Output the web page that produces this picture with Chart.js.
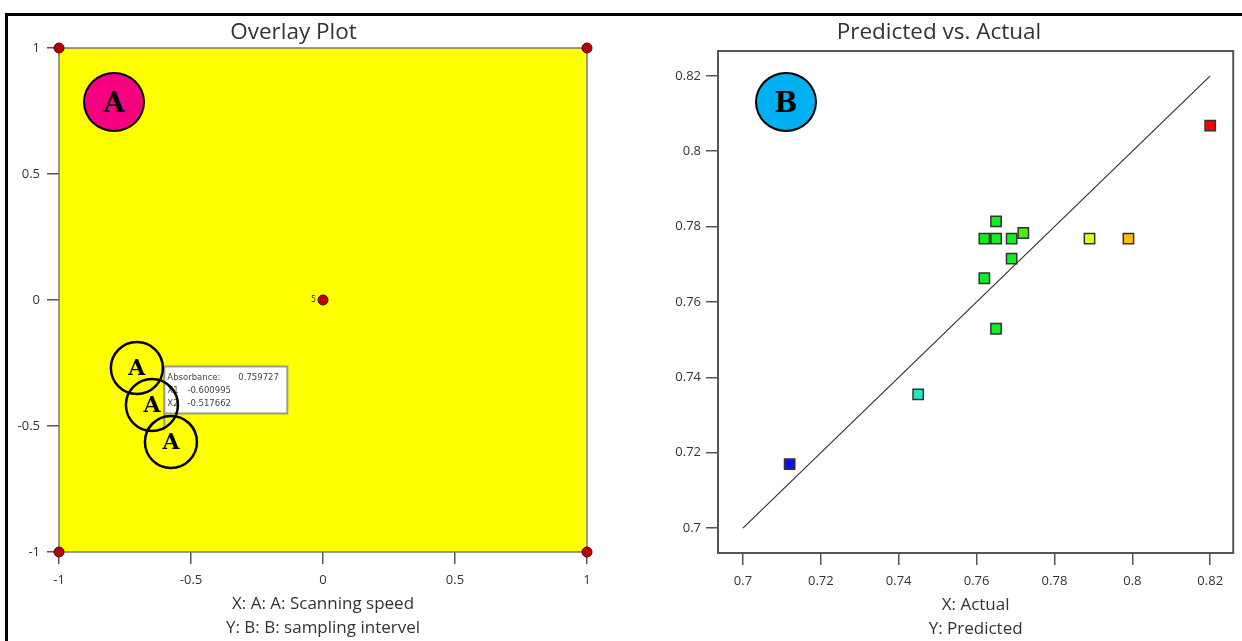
<!DOCTYPE html>
<html>
<head>
<meta charset="utf-8">
<title>Overlay Plot / Predicted vs. Actual</title>
<script src="https://cdn.jsdelivr.net/npm/chart.js@4.4.1/dist/chart.umd.min.js"></script>
<style>
  html, body { margin: 0; padding: 0; background: #fff; }
  body { width: 1242px; height: 641px; position: relative; overflow: hidden; }
  .frame { position: absolute; left: 5px; top: 13px; width: 1300px; height: 700px;
           border: 3px solid #000; box-sizing: border-box; pointer-events: none; }
  .panel { position: absolute; top: 0; height: 641px; }
  #left { left: 0; width: 640px; }
  #right { left: 640px; width: 602px; }
  .badge { position: absolute; width: 62px; height: 60px; border: 2.5px solid #000; border-radius: 50%;
           box-sizing: border-box; font: bold 27px "DejaVu Serif", serif; color: #000;
           display: flex; align-items: center; justify-content: center; }
  #badgeA { left: 83px; top: 72px; background: #f5007f; }
  #badgeB { left: 755px; top: 72px; background: #00b0f0; }
</style>
</head>
<body>
<div class="frame"></div>
<div class="panel" id="left"><canvas id="overlay"></canvas></div>
<div class="panel" id="right"><canvas id="predicted"></canvas></div>
<div class="badge" id="badgeA">A</div>
<div class="badge" id="badgeB">B</div>
<script>
// overlay plot, coded units
const designX = [-1, 1, -1, 1, 0];
const designY = [1, 1, -1, -1, 0];
const designRuns = ['', '', '', '', '5'];
const codedTicks = [-1, -0.5, 0, 0.5, 1];

// suggested solutions marked "A"
const solutionX = [-0.705, -0.648, -0.576];
const solutionY = [-0.27, -0.417, -0.563];

// flagged point
const flagX1 = -0.600995;
const flagX2 = -0.517662;
const flagAbsorbance = 0.759727;

// predicted vs actual
const actual = [0.712, 0.745, 0.762, 0.762, 0.765, 0.765, 0.765, 0.769, 0.769, 0.772, 0.789, 0.799, 0.820];
const predicted = [0.717, 0.7355, 0.7768, 0.7663, 0.7814, 0.7768, 0.7529, 0.7768, 0.7715, 0.7783, 0.7768, 0.7768, 0.8068];
const pointColors = ['#0a10f0', '#20e8c0', '#10f020', '#10f020', '#10f020', '#10f020', '#10f020',
                     '#10f020', '#10f020', '#48f010', '#e0ff10', '#ffc000', '#ff0000'];
const fitLine = [0.7, 0.82];
const absTicks = [0.7, 0.72, 0.74, 0.76, 0.78, 0.8, 0.82];

const FONT = '"Open Sans", sans-serif';
const TEXT = '#333';
const fmt = v => String(+Number(v).toFixed(3));

const plotFrame = {
  id: 'plotFrame',
  beforeDatasetsDraw(chart, args, opts) {
    const {ctx, chartArea: a} = chart;
    ctx.save();
    if (opts.fill) {
      ctx.fillStyle = opts.fill;
      ctx.fillRect(a.left, a.top, a.width, a.height);
    }
    ctx.strokeStyle = opts.color;
    ctx.lineWidth = opts.width;
    ctx.strokeRect(a.left, a.top, a.width, a.height);
    ctx.restore();
  }
};

const overlayMarks = {
  id: 'overlayMarks',
  afterDatasetsDraw(chart) {
    const {ctx, scales: {x, y}} = chart;
    ctx.save();

    // run count next to the centre point
    ctx.font = '8px "DejaVu Sans"';
    ctx.fillStyle = TEXT;
    ctx.textAlign = 'right';
    ctx.textBaseline = 'middle';
    designRuns.forEach((t, i) => {
      if (t) ctx.fillText(t, x.getPixelForValue(designX[i]) - 7, y.getPixelForValue(designY[i]));
    });

    // flag with the predicted value
    const fx = x.getPixelForValue(flagX1);
    const fy = y.getPixelForValue(flagX2);
    const by = fy - 64, bw = 123, bh = 47;
    ctx.strokeStyle = '#9a9a9a';
    ctx.lineWidth = 2;
    ctx.beginPath();
    ctx.moveTo(fx, fy);
    ctx.lineTo(fx, by);
    ctx.stroke();
    ctx.fillStyle = '#fff';
    ctx.fillRect(fx, by, bw, bh);
    ctx.strokeRect(fx, by, bw, bh);
    ctx.fillStyle = '#444';
    ctx.textAlign = 'left';
    ctx.font = '8.5px "DejaVu Sans"';
    ctx.fillText('Absorbance:', fx + 3, by + 11);
    ctx.fillText(String(flagAbsorbance), fx + 74, by + 11);
    ctx.fillText('X1', fx + 3, by + 24);
    ctx.fillText(String(flagX1), fx + 23, by + 24);
    ctx.fillText('X2', fx + 3, by + 37);
    ctx.fillText(String(flagX2), fx + 23, by + 37);

    // solution circles
    ctx.strokeStyle = '#000';
    ctx.lineWidth = 2.5;
    ctx.fillStyle = '#000';
    ctx.textAlign = 'center';
    ctx.font = 'bold 22px "DejaVu Serif"';
    solutionX.forEach((v, i) => {
      const cx = x.getPixelForValue(v);
      const cy = y.getPixelForValue(solutionY[i]);
      ctx.beginPath();
      ctx.arc(cx, cy, 26, 0, Math.PI * 2);
      ctx.stroke();
      ctx.fillText('A', cx, cy + 1);
    });
    ctx.restore();
  }
};

function tickAxis(ticks, opts) {
  return Object.assign({
    type: 'linear',
    afterBuildTicks: s => { s.ticks = ticks.map(v => ({value: v})); },
    grid: {drawOnChartArea: false, drawTicks: true, tickLength: 12, color: '#555', lineWidth: 1.5},
    border: {display: false}
  }, opts);
}

new Chart(document.getElementById('overlay'), {
  type: 'scatter',
  data: {
    datasets: [{
      data: designX.map((v, i) => ({x: v, y: designY[i]})),
      backgroundColor: '#bb0000',
      borderColor: '#4a0000',
      borderWidth: 1,
      pointRadius: 5,
      clip: false
    }]
  },
  options: {
    responsive: true,
    maintainAspectRatio: false,
    animation: false,
    devicePixelRatio: 1,
    layout: {padding: {top: 14, left: 0, right: 53, bottom: 0}},
    scales: {
      x: tickAxis(codedTicks, {
        min: -1, max: 1,
        afterFit: s => { s.height = 89; },
        ticks: {color: TEXT, font: {family: FONT, size: 13}, padding: 8, callback: fmt},
        title: {display: true, text: ['X: A: A: Scanning speed', 'Y: B: B: sampling intervel'],
                color: TEXT, font: {family: FONT, size: 17, lineHeight: 1.4}, padding: {top: 4, bottom: 1}}
      }),
      y: tickAxis(codedTicks, {
        min: -1, max: 1,
        afterFit: s => { s.width = 59; },
        ticks: {color: TEXT, font: {family: FONT, size: 13}, padding: 7, callback: fmt}
      })
    },
    plugins: {
      legend: {display: false},
      tooltip: {enabled: false},
      title: {display: true, text: 'Overlay Plot', color: TEXT,
              font: {family: FONT, size: 22.5, weight: 'normal'}, padding: {top: 5, bottom: 2}},
      plotFrame: {fill: '#ffff00', color: '#7a7a7a', width: 1.5}
    }
  },
  plugins: [plotFrame, overlayMarks]
});

new Chart(document.getElementById('predicted'), {
  type: 'scatter',
  data: {
    datasets: [{
      type: 'line',
      data: fitLine.map(v => ({x: v, y: v})),
      borderColor: '#333',
      borderWidth: 1.2,
      pointRadius: 0
    }, {
      data: actual.map((v, i) => ({x: v, y: predicted[i]})),
      backgroundColor: pointColors,
      borderColor: '#333',
      borderWidth: 1.5,
      pointStyle: 'rect',
      pointRadius: 7.3
    }]
  },
  options: {
    responsive: true,
    maintainAspectRatio: false,
    animation: false,
    devicePixelRatio: 1,
    layout: {padding: {top: 14, left: 0, right: 4, bottom: 0}},
    scales: {
      x: tickAxis(absTicks, {
        min: 0.6936, max: 0.8259,
        afterFit: s => { s.height = 88; },
        ticks: {color: TEXT, font: {family: FONT, size: 13}, padding: 8, callback: fmt},
        title: {display: true, text: ['X: Actual', 'Y: Predicted'],
                color: TEXT, font: {family: FONT, size: 17, lineHeight: 1.4}, padding: {top: 4, bottom: 0}}
      }),
      y: tickAxis(absTicks, {
        min: 0.6934, max: 0.8266,
        afterFit: s => { s.width = 78; },
        ticks: {color: TEXT, font: {family: FONT, size: 13}, padding: 5, callback: fmt}
      })
    },
    plugins: {
      legend: {display: false},
      tooltip: {enabled: false},
      title: {display: true, text: 'Predicted vs. Actual', color: TEXT,
              font: {family: FONT, size: 22.5, weight: 'normal'}, padding: {top: 5, bottom: 5}},
      plotFrame: {color: '#555', width: 2}
    }
  },
  plugins: [plotFrame]
});
</script>
</body>
</html>
